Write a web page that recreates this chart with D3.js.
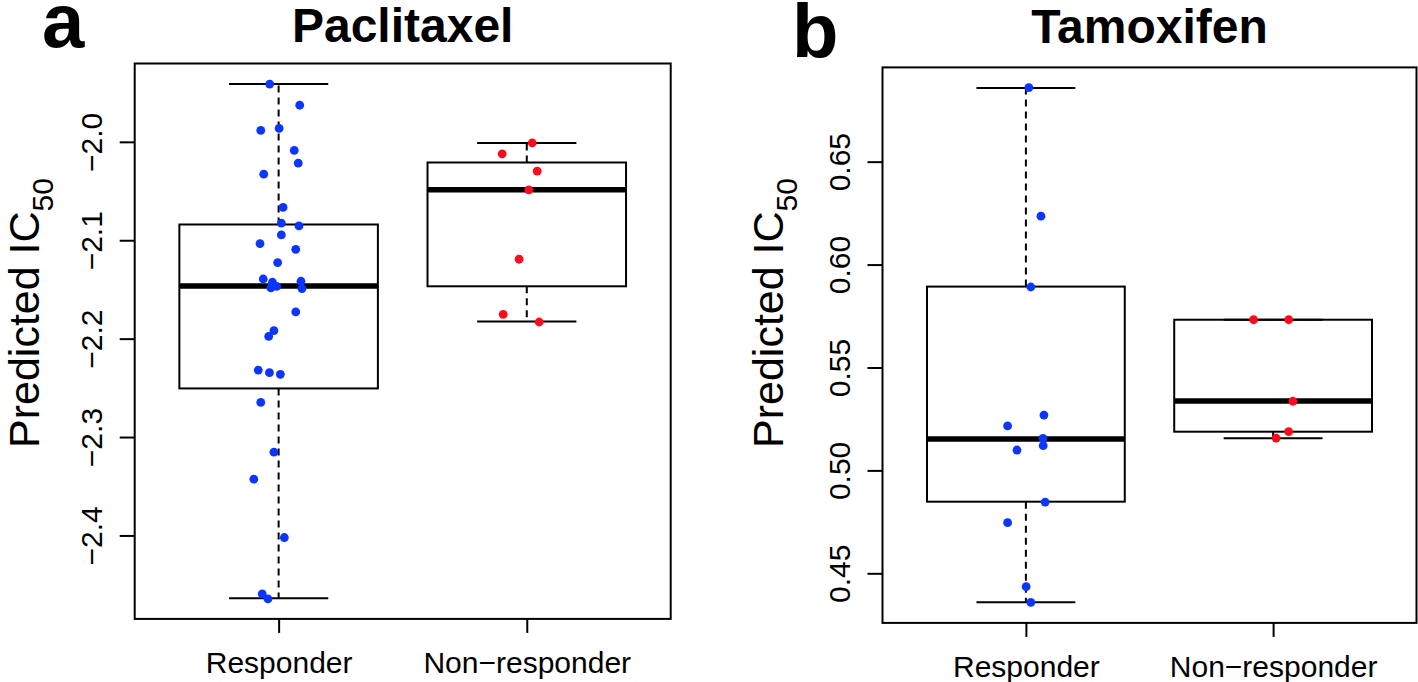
<!DOCTYPE html>
<html><head><meta charset="utf-8">
<script src="https://cdn.jsdelivr.net/npm/d3@7"></script>
<style>body{margin:0;background:#fff}</style>
</head><body>
<svg id="chart" width="1418" height="682"></svg>
<script>
// ---------------- DATA ----------------
const groups = ["Responder", "Non−responder"];
const drugs = ["Paclitaxel", "Tamoxifen"];
const panelLetters = ["a", "b"];

const paclitaxelTicks = [-2.0, -2.1, -2.2, -2.3, -2.4];
const tamoxifenTicks = [0.45, 0.50, 0.55, 0.60, 0.65];

// box stats: [lower whisker, lower hinge, median, upper hinge, upper whisker]
const paclitaxelStats = [
  [-2.4639, -2.2506, -2.1465, -2.0840, -1.9413],
  [-2.1827, -2.1468, -2.0488, -2.0210, -2.0013]
];
const tamoxifenStats = [
  [0.4359, 0.4848, 0.5153, 0.5893, 0.6858],
  [0.5156, 0.5188, 0.5337, 0.5732, 0.5732]
];

// points (values) and horizontal jitter (in group units)
const paclitaxelResponder = [-1.9413, -1.9628, -1.9884, -1.9864, -2.0087, -2.0217, -2.0329, -2.0667,
  -2.0827, -2.0855, -2.0946, -2.1034, -2.1092, -2.1227, -2.1394, -2.1427, -2.1485, -2.1468, -2.1417,
  -2.1491, -2.1729, -2.1919, -2.1977, -2.2319, -2.2346, -2.2363, -2.2648, -2.3154, -2.3428, -2.4021,
  -2.4594, -2.4645];
const paclitaxelResponderJitter = [-0.036, 0.085, -0.072, 0.002, 0.063, 0.079, -0.060, 0.018,
  0.011, 0.082, 0.011, -0.075, 0.069, -0.004, -0.062, -0.025, -0.031, -0.008, 0.090,
  0.094, 0.069, -0.019, -0.040, -0.082, -0.037, 0.007, -0.072, -0.019, -0.100, 0.023,
  -0.066, -0.043];
const paclitaxelNonResponder = [-2.0010, -2.0122, -2.0298, -2.0488, -2.1193, -2.1753, -2.1831];
const paclitaxelNonResponderJitter = [0.022, -0.099, 0.042, 0.008, -0.031, -0.095, 0.050];

const tamoxifenResponder = [0.6860, 0.6235, 0.5891, 0.5269, 0.5216, 0.5156, 0.5120, 0.5099,
  0.4846, 0.4746, 0.4435, 0.4359];
const tamoxifenResponderJitter = [0.012, 0.061, 0.020, 0.073, -0.074, 0.069, 0.070, -0.036,
  0.078, -0.074, 0.001, 0.020];
const tamoxifenNonResponder = [0.5732, 0.5732, 0.5336, 0.5188, 0.5157];
const tamoxifenNonResponderJitter = [-0.079, 0.063, 0.080, 0.063, 0.012];

// ---------------- LAYOUT / STYLE ----------------
const FONT = "'Liberation Sans', Arial, Helvetica, sans-serif";
const groupColors = ["#0a36ff", "#ff0a1c"];

const panels = [
  { rect: {l: 134.7, r: 670.7, t: 63.5, b: 618.9}, stats: paclitaxelStats,
    pts: [[paclitaxelResponder, paclitaxelResponderJitter], [paclitaxelNonResponder, paclitaxelNonResponderJitter]],
    ticks: paclitaxelTicks, fmt: d3.format(".1f"),
    letterPos: [42, 47], titleY: 42, ylabX: 39, ylabY: 313 },
  { rect: {l: 882.5, r: 1416.5, t: 67.4, b: 622.9}, stats: tamoxifenStats,
    pts: [[tamoxifenResponder, tamoxifenResponderJitter], [tamoxifenNonResponder, tamoxifenNonResponderJitter]],
    ticks: tamoxifenTicks, fmt: d3.format(".2f"),
    letterPos: [792, 57], titleY: 43, ylabX: 783, ylabY: 313 }
];

const svg = d3.select("#chart").style("font-family", FONT);

panels.forEach((p, pi) => {
  const R = p.rect;
  const allVals = p.stats.flat();
  const lo = d3.min(allVals), hi = d3.max(allVals), span = hi - lo;
  const y = d3.scaleLinear().domain([lo - 0.04 * span, hi + 0.04 * span]).range([R.b, R.t]);
  const x = d3.scaleLinear().domain([0.42, 2.58]).range([R.l, R.r]);
  const g = svg.append("g");

  // boxes
  p.stats.forEach((s, i) => {
    const c = i + 1;
    const bg = g.append("g").attr("stroke", "#000").attr("fill", "none");
    bg.append("line").attr("x1", x(c)).attr("x2", x(c)).attr("y1", y(s[3])).attr("y2", y(s[4]))
      .attr("stroke-width", 2).attr("stroke-dasharray", "7,5");
    bg.append("line").attr("x1", x(c)).attr("x2", x(c)).attr("y1", y(s[1])).attr("y2", y(s[0]))
      .attr("stroke-width", 2).attr("stroke-dasharray", "7,5");
    [s[0], s[4]].forEach(v => {
      bg.append("line").attr("x1", x(c - 0.2)).attr("x2", x(c + 0.2)).attr("y1", y(v)).attr("y2", y(v))
        .attr("stroke-width", 2);
    });
    bg.append("rect").attr("x", x(c - 0.4)).attr("width", x(c + 0.4) - x(c - 0.4))
      .attr("y", y(s[3])).attr("height", y(s[1]) - y(s[3])).attr("stroke-width", 2);
    bg.append("line").attr("x1", x(c - 0.4)).attr("x2", x(c + 0.4)).attr("y1", y(s[2])).attr("y2", y(s[2]))
      .attr("stroke-width", 5.5);
  });

  // points
  p.pts.forEach(([vals, jit], i) => {
    g.append("g").selectAll("circle").data(vals).join("circle")
      .attr("cx", (d, k) => x(i + 1 + jit[k]))
      .attr("cy", d => y(d))
      .attr("r", 4.4)
      .attr("fill", groupColors[i]);
  });

  // frame
  g.append("rect").attr("x", R.l).attr("y", R.t).attr("width", R.r - R.l).attr("height", R.b - R.t)
    .attr("fill", "none").attr("stroke", "#000").attr("stroke-width", 2);

  // y axis
  const ya = g.append("g").attr("transform", `translate(${R.l},0)`)
    .call(d3.axisLeft(y).tickValues(p.ticks).tickSize(15).tickFormat(p.fmt));
  ya.select(".domain").remove();
  ya.selectAll(".tick line").attr("stroke-width", 2);
  ya.selectAll(".tick text")
    .attr("transform", "rotate(-90)").attr("x", 0).attr("y", -33).attr("dy", 0)
    .attr("text-anchor", "middle").style("font-size", "30px").style("font-family", FONT).attr("fill", "#000");

  // x axis
  const xa = g.append("g").attr("transform", `translate(0,${R.b})`)
    .call(d3.axisBottom(x).tickValues([1, 2]).tickSize(14).tickFormat((d) => groups[d - 1]));
  xa.select(".domain").remove();
  xa.selectAll(".tick line").attr("stroke-width", 2);
  xa.selectAll(".tick text").attr("y", 54).attr("dy", 0)
    .style("font-size", "30px").style("font-family", FONT).attr("fill", "#000");

  // y label
  const yl = g.append("text")
    .attr("transform", `translate(${p.ylabX},${p.ylabY}) rotate(-90)`)
    .attr("text-anchor", "middle").style("font-size", "43px").attr("fill", "#000");
  yl.append("tspan").text("Predicted IC");
  yl.append("tspan").text("50").attr("dy", 14).style("font-size", "30px");

  // title
  g.append("text").attr("x", (R.l + R.r) / 2).attr("y", p.titleY)
    .attr("text-anchor", "middle").style("font-size", "48px").style("font-weight", "bold")
    .attr("fill", "#000").text(drugs[pi]);

  // panel letter
  g.append("text").attr("x", p.letterPos[0]).attr("y", p.letterPos[1])
    .style("font-size", "76px").style("font-weight", "bold").attr("fill", "#000").text(panelLetters[pi]);
});
</script>
</body></html>
